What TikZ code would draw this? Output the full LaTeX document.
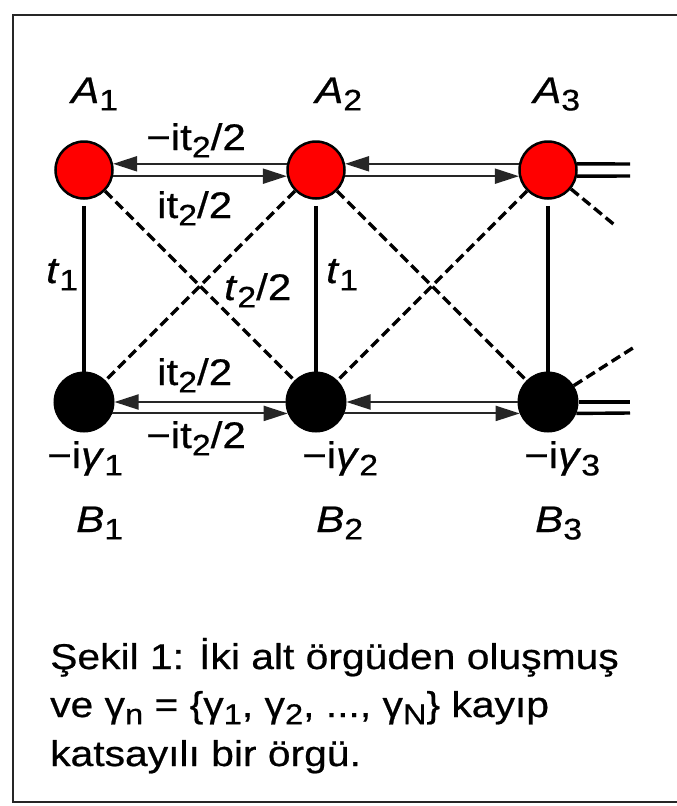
\documentclass[tikz,border=0pt]{standalone}
\usepackage{fontspec}
\setmainfont{Liberation Sans}[FakeStretch=1.14,FakeBold=0.6]
\usetikzlibrary{arrows.meta}
\newcommand{\sbx}[1]{\raisebox{-0.2em}{\scalebox{0.8}{#1}}}
\begin{document}
\begin{tikzpicture}[x=1pt,y=-1pt,
  lbl/.style={anchor=base west,inner sep=0pt,font=\fontsize{37}{44}\selectfont},
  captxt/.style={anchor=base west,inner sep=0pt,font=\fontsize{35.8}{48}\selectfont},
  asite/.style={circle,draw=black,line width=2.5pt,fill=red,minimum size=57pt,inner sep=0pt},
  bsite/.style={circle,draw=black,line width=1pt,fill=black,minimum size=60pt,inner sep=0pt},
  hop/.style={line width=2pt,draw=black!85,-{Triangle[length=24pt,width=15pt]}},
  lead/.style={line width=3.4pt},
  diag/.style={line width=3.4pt,dash pattern=on 10pt off 5pt},
  rung/.style={line width=3.2pt},
  frame/.style={line width=2.5pt,draw=black!85}]
\useasboundingbox (0,0) rectangle (677,806);
\draw[frame] (677,15) -- (13,15) -- (13,802) -- (677,802);

% sites
\node[asite] (A1) at (84,170) {};
\node[asite] (A2) at (316,170) {};
\node[asite] (A3) at (548,170) {};
\node[bsite] (B1) at (84,402) {};
\node[bsite] (B2) at (316,402) {};
\node[bsite] (B3) at (548,402) {};

% rungs
\draw[rung] ([yshift=-6pt]A1.south) -- (B1.north);
\draw[rung] ([yshift=-6pt]A2.south) -- (B2.north);
\draw[rung] ([yshift=-6pt]A3.south) -- (B3.north);

% diagonal couplings
\draw[diag] (A1) -- (B2);
\draw[diag] (A2) -- (B1);
\draw[diag] (A2) -- (B3);
\draw[diag] (A3) -- (B2);
\coordinate (da) at (617,227);
\coordinate (db) at (636,346);
\draw[diag] (A3) -- (da);
\draw[diag] (B3) -- (db);

% horizontal hoppings
\draw[hop] (A2.168) -- (A1.12);
\draw[hop] (A1.-12) -- (A2.-168);
\draw[hop] (A3.168) -- (A2.12);
\draw[hop] (A2.-12) -- (A3.-168);
\draw[hop] (B2.180) -- (B1.0);
\draw[hop] (B1.-22) -- (B2.-158);
\draw[hop] (B3.180) -- (B2.0);
\draw[hop] (B2.-22) -- (B3.-158);

% leads to the right
\coordinate (ea1) at (630,164);
\coordinate (ea2) at (630,176);
\coordinate (eb1) at (630,402);
\coordinate (eb2) at (630,413);
\draw[lead] (A3.12) -- (ea1);
\draw[lead] (A3.-12) -- (ea2);
\draw[lead] (B3.0) -- (eb1);
\draw[lead] (B3.-22) -- (eb2);

% labels
\node[lbl] (lA1) at (71,103) {\textit{A}\sbx{1}};
\node[lbl] (lA2) at (315,103) {\textit{A}\sbx{2}};
\node[lbl] (lA3) at (533,103) {\textit{A}\sbx{3}};
\node[lbl] (lB1) at (76,532) {\textit{B}\sbx{1}};
\node[lbl] (lB2) at (316,532) {\textit{B}\sbx{2}};
\node[lbl] (lB3) at (535,532) {\textit{B}\sbx{3}};
\node[lbl] (h1) at (146,150) {−it\sbx{2}/2};
\node[lbl] (h2) at (157,218) {it\sbx{2}/2};
\node[lbl] (h3) at (157,385) {it\sbx{2}/2};
\node[lbl] (h4) at (146,448) {−it\sbx{2}/2};
\node[lbl] (g1) at (47,468) {−i\textit{γ}\sbx{1}};
\node[lbl] (g2) at (302,468) {−i\textit{γ}\sbx{2}};
\node[lbl] (g3) at (524,468) {−i\textit{γ}\sbx{3}};
\node[lbl] (t1a) at (46,283) {\textit{t}\sbx{1}};
\node[lbl] (t1b) at (326,283) {\textit{t}\sbx{1}};
\node[lbl] (t2) at (224,300) {\textit{t}\sbx{2}/2};

% caption
\node[captxt] (c1) at (50,669) {Şekil 1: İki alt örgüden oluşmuş};
\node[captxt] (c2) at (50,717) {ve γ\sbx{n} = \{γ\sbx{1}, γ\sbx{2}, ..., γ\sbx{N}\} kayıp};
\node[captxt] (c3) at (50,766) {katsayılı bir örgü.};
\end{tikzpicture}
\end{document}
